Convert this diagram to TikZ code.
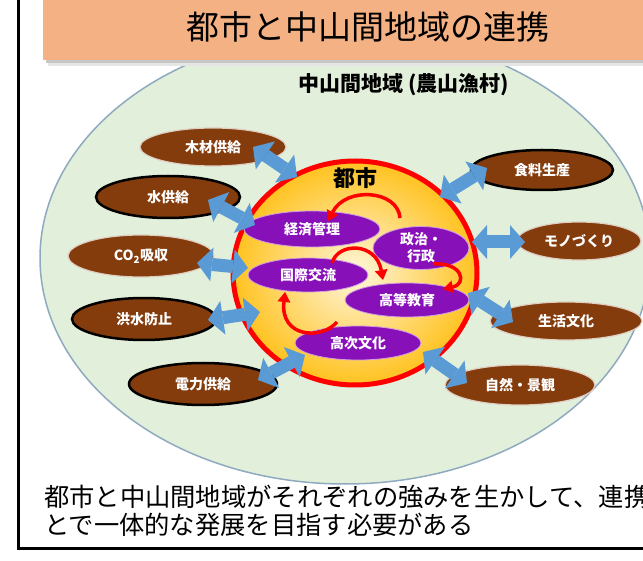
\documentclass[tikz,border=0pt]{standalone}
\usepackage{fontspec}
\setmainfont{Noto Sans CJK JP}
\usetikzlibrary{shapes.geometric,arrows.meta,calc}
\definecolor{barc}{HTML}{F4B183}
\definecolor{landc}{HTML}{E2EFDA}
\definecolor{landb}{HTML}{8FAAC0}
\definecolor{brownc}{HTML}{843C0C}
\definecolor{bluec}{HTML}{5B9BD5}
\definecolor{purpc}{RGB}{136,16,184}
\definecolor{cityin}{HTML}{FFF7DC}
\definecolor{cityout}{HTML}{FFC21F}
\definecolor{redc}{HTML}{FF0000}
\begin{document}
\begin{tikzpicture}[x=1pt,y=-1pt,
  region/.style={ellipse, inner sep=0pt, fill=brownc, text=white, font=\fontsize{14}{16}\selectfont\bfseries},
  regionlt/.style={region, draw=brownc!25!white, line width=1.2pt},
  regionbk/.style={region, draw=black, line width=2.5pt},
  func/.style={ellipse, inner sep=0pt, fill=purpc, draw=purpc!40!white, line width=0.8pt, text=white, align=center, font=\fontsize{14}{17}\selectfont\bfseries},
  link/.style={draw=bluec, line width=13pt, {Triangle[length=15pt,width=34pt,line width=0pt]}-{Triangle[length=15pt,width=34pt,line width=0pt]}},
  flow/.style={draw=redc, line width=3.5pt, -{Triangle[length=10pt,width=13pt,line width=0pt]}},
]
\clip (0,0) rectangle (643,561);
\fill[white] (0,0) rectangle (643,561);
% frame
\draw[line width=3pt] (18,-10) -- (18,548) -- (670,548);
% rural region
\node[ellipse, minimum width=610pt, minimum height=452pt, fill=landc, draw=landb, line width=1.5pt] (land) at (345,258) {};
% title bar
\fill[black!22] (46,60) rectangle (670,63);
\fill[black!10] (48,63) rectangle (670,66);
\node[rectangle, fill=barc, inner sep=0pt, minimum width=640pt, minimum height=70pt, anchor=south west] (bar) at (43,60) {};
\node (title) at (368,27) {\fontsize{33}{38}\selectfont 都市と中山間地域の連携};
\node[anchor=west, inner sep=0pt] (sub) at (298,85) {\fontsize{21}{24}\selectfont\bfseries 中山間地域 (農山漁村)};
% city
\node[ellipse, minimum width=244pt, minimum height=224pt, inner color=cityin, outer color=cityout, draw=redc, line width=5pt] (city) at (355,273) {};
\node (citylbl) at (355,178) {\fontsize{22}{24}\selectfont\bfseries 都市};
% functions
\node[func, minimum width=136pt, minimum height=36pt] (keizai) at (312,229) {経済管理};
\node[func, minimum width=96pt, minimum height=42pt] (seiji) at (421,248) {政治・\\行政};
\node[func, minimum width=120pt, minimum height=34pt] (kokusai) at (308,275) {国際交流};
\node[func, minimum width=124pt, minimum height=34pt] (koto) at (407,300) {高等教育};
\node[func, minimum width=126pt, minimum height=34pt] (koji) at (358,343) {高次文化};
% red flows
\draw[flow] ($(seiji.center)+(-21,-30)$) .. controls (398,190) and (346,186) .. ($(keizai.center)+(16,-8)$);
\draw[flow] ($(kokusai.center)+(24,-12)$) .. controls (338,242) and (376,242) .. ($(koto.center)+(-24,-20)$);
\draw[flow] ($(seiji.center)+(12,16)$) .. controls (463,262) and (467,284) .. ($(koto.center)+(36,-11)$);
\draw[flow] ($(koji.center)+(-21,-21)$) .. controls (322,340) and (280,338) .. ($(kokusai.center)+(-23,17)$);
% rural functions
\node[regionlt, minimum width=146pt, minimum height=38pt] (mokuzai) at (213,147) {木材供給};
\node[regionbk, minimum width=144pt, minimum height=42pt] (mizu) at (168,197) {水供給};
\node[regionlt, minimum width=146pt, minimum height=42pt] (co2) at (141,256) {CO\textsubscript{2}吸収};
\node[regionbk, minimum width=144pt, minimum height=42pt] (kozui) at (144,319) {洪水防止};
\node[regionbk, minimum width=148pt, minimum height=42pt] (denryoku) at (203,384) {電力供給};
\node[regionbk, minimum width=142pt, minimum height=40pt] (shokuryo) at (542,170) {食料生産};
\node[regionlt, minimum width=124pt, minimum height=38pt] (mono) at (579,241) {モノづくり};
\node[regionlt, minimum width=152pt, minimum height=38pt] (seikatsu) at (566,321) {生活文化};
\node[regionlt, minimum width=150pt, minimum height=40pt] (shizen) at (520,385) {自然・景観};
% links
\draw[link] ($(mokuzai.center)+(40,0)$) -- ($(city.center)+(-58,-96)$);
\draw[link] ($(mizu.center)+(40,3)$) -- ($(city.center)+(-100,-48)$);
\draw[link] ($(co2.center)+(56,7)$) -- ($(city.center)+(-107,-5)$);
\draw[link] ($(kozui.center)+(64,1)$) -- ($(city.center)+(-95,39)$);
\draw[link] ($(denryoku.center)+(55,-4)$) -- ($(city.center)+(-50,82)$);
\draw[link] ($(shokuryo.center)+(-55,-2)$) -- ($(city.center)+(85,-76)$);
\draw[link] ($(mono.center)+(-54,1)$) -- ($(city.center)+(117,-31)$);
\draw[link] ($(seikatsu.center)+(-53,1)$) -- ($(city.center)+(113,20)$);
\draw[link] ($(shizen.center)+(-53,-2)$) -- ($(city.center)+(68,79)$);
% caption
\node[anchor=west, inner sep=0pt] (cap1) at (44,497) {\fontsize{25.3}{30}\selectfont 都市と中山間地域がそれぞれの強みを生かして、連携};
\node[anchor=west, inner sep=0pt] (cap2) at (44,525) {\fontsize{25.3}{30}\selectfont とで一体的な発展を目指す必要がある};
\end{tikzpicture}
\end{document}
